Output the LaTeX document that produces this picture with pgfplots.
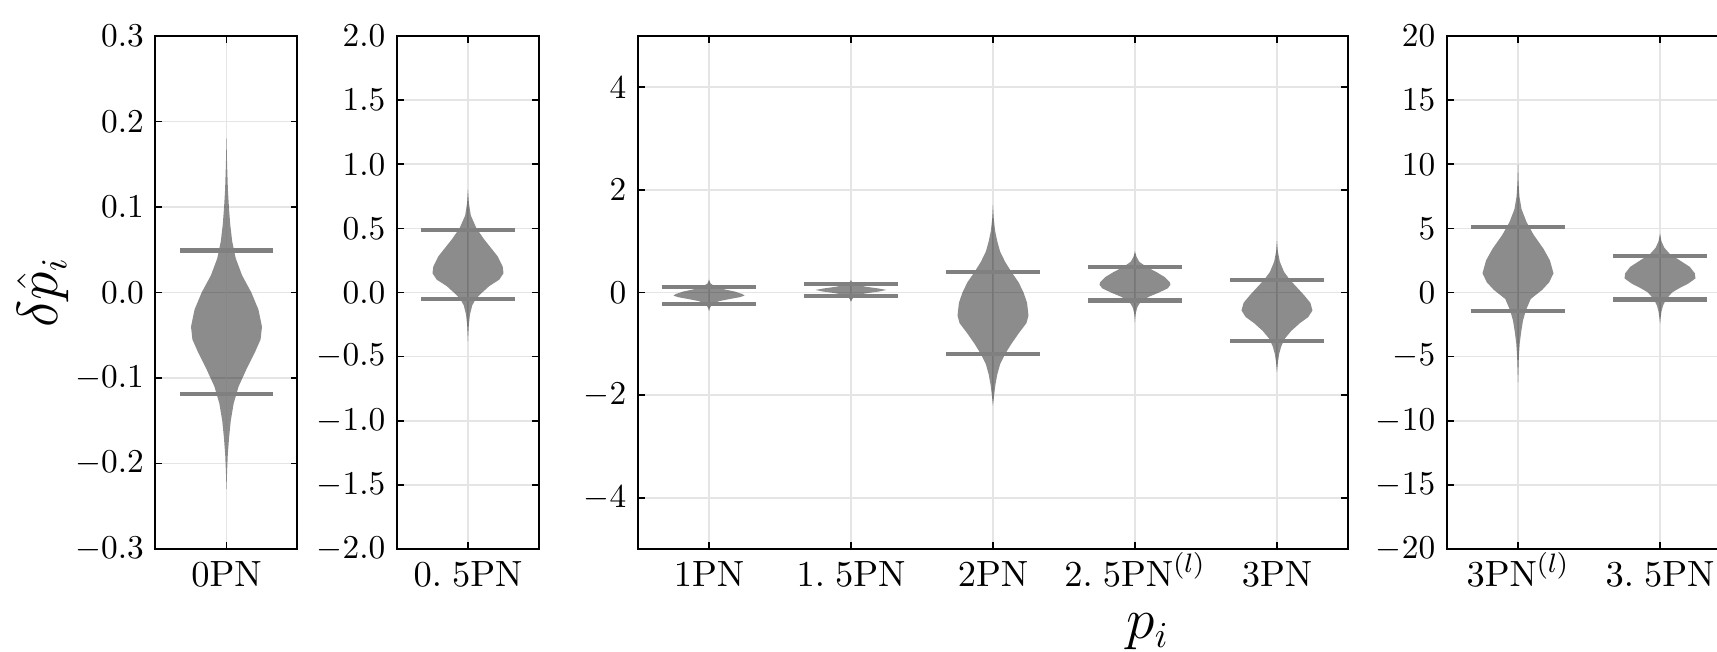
\documentclass[border=0pt]{standalone}
\usepackage{pgfplots}
\usepackage{pgfplotstable}
\pgfplotsset{compat=1.18}

% violin outlines: y and half width w (category units)
\pgfplotstableread{
y w
0.18 0
0.15 0.004
0.12 0.01
0.10 0.017
0.08 0.026
0.06 0.04
0.04 0.065
0.02 0.11
0.00 0.175
-0.02 0.225
-0.04 0.25
-0.055 0.24
-0.07 0.2
-0.09 0.14
-0.11 0.085
-0.13 0.05
-0.15 0.03
-0.17 0.018
-0.19 0.009
-0.21 0.004
-0.23 0
}\vZero
\pgfplotstableread{
y w
0.80 0
0.70 0.006
0.60 0.02
0.50 0.06
0.42 0.11
0.35 0.16
0.28 0.21
0.20 0.245
0.15 0.25
0.10 0.22
0.05 0.15
0.00 0.1
-0.05 0.055
-0.10 0.03
-0.17 0.014
-0.25 0.006
-0.33 0.002
-0.38 0
}\vHalf
\pgfplotstableread{
y w
0.25 0
0.18 0.01
0.12 0.04
0.06 0.11
0.02 0.18
-0.03 0.235
-0.06 0.25
-0.09 0.22
-0.13 0.14
-0.17 0.07
-0.21 0.035
-0.26 0.015
-0.31 0.005
-0.36 0
}\vOne
\pgfplotstableread{
y w
0.24 0
0.19 0.01
0.15 0.04
0.11 0.11
0.08 0.19
0.05 0.25
0.02 0.2
-0.01 0.12
-0.04 0.06
-0.08 0.025
-0.13 0.008
-0.18 0
}\vOneHalf
\pgfplotstableread{
y w
1.70 0
1.45 0.005
1.20 0.015
1.00 0.03
0.80 0.05
0.60 0.085
0.40 0.13
0.20 0.18
0.00 0.215
-0.20 0.24
-0.45 0.25
-0.60 0.235
-0.80 0.18
-1.00 0.13
-1.20 0.085
-1.40 0.05
-1.60 0.03
-1.80 0.017
-2.00 0.008
-2.20 0
}\vTwo
\pgfplotstableread{
y w
0.80 0
0.70 0.01
0.60 0.03
0.50 0.08
0.40 0.15
0.30 0.21
0.20 0.245
0.15 0.25
0.08 0.23
0.00 0.17
-0.08 0.1
-0.15 0.055
-0.22 0.03
-0.30 0.015
-0.40 0.006
-0.50 0.002
-0.58 0
}\vTwoHalf
\pgfplotstableread{
y w
1.00 0
0.80 0.006
0.60 0.02
0.40 0.05
0.25 0.09
0.10 0.14
-0.05 0.19
-0.20 0.235
-0.35 0.25
-0.48 0.22
-0.60 0.16
-0.75 0.1
-0.90 0.055
-1.05 0.03
-1.20 0.015
-1.35 0.007
-1.55 0
}\vThree
\pgfplotstableread{
y w
10.0 0
8.5 0.004
7.5 0.01
6.5 0.025
5.5 0.06
4.5 0.11
3.4 0.18
2.5 0.225
1.5 0.25
0.8 0.22
0.2 0.17
-0.5 0.09
-1.4 0.055
-2.2 0.035
-3.1 0.022
-4.0 0.012
-5.0 0.006
-6.0 0.003
-7.0 0
}\vThreeL
\pgfplotstableread{
y w
4.6 0
4.0 0.01
3.5 0.03
3.0 0.07
2.5 0.14
2.0 0.21
1.5 0.245
1.1 0.25
0.7 0.2
0.3 0.13
0.0 0.085
-0.5 0.045
-1.0 0.022
-1.5 0.01
-2.0 0.004
-2.4 0
}\vThreeHalf

% each half of a violin is filled; the fill closes along the centre line
\newcommand{\violin}[2]{%
  \addplot[fill=black, fill opacity=0.45, draw=none] table[x expr={#2+\thisrow{w}}, y=y] {#1};
  \addplot[fill=black, fill opacity=0.45, draw=none] table[x expr={#2-\thisrow{w}}, y=y] {#1};
}

\pgfplotsset{
  vio/.style={
    scale only axis, height=153.9pt, anchor=south west,
    xmin=-0.5,
    tick align=inside, xtick pos=both, ytick pos=both,
    major tick length=2pt,
    every tick/.style={black, line width=0.5pt},
    xmajorgrids, ymajorgrids,
    grid style={black!10, line width=0.5pt},
    axis line style={black, line width=0.6pt},
    x tick label style={font=\fontsize{11.2}{13}\selectfont, text height=7.7pt},
    y tick label style={font=\fontsize{10.4}{12}\selectfont},
    scaled y ticks=false,
  },
  qline/.style={black!50, line width=1.3pt},
}

\begin{document}
\begin{tikzpicture}

% panel 1: 0PN
\begin{axis}[vio, at={(46.65pt,30.9pt)}, width=42.6pt, xmax=0.5,
  ymin=-0.3, ymax=0.3, ytick={-0.3,-0.2,-0.1,0,0.1,0.2,0.3},
  yticklabel style={/pgf/number format/fixed, /pgf/number format/fixed zerofill, /pgf/number format/precision=1},
  xtick={0}, xticklabels={$0\mathrm{PN}$},
  ylabel={$\delta\hat{p}_i$},
  ylabel style={font=\fontsize{16}{19}\selectfont, at={(axis description cs:-0.79,0.5)}, anchor=center}]
\violin{\vZero}{0}
\addplot[qline] coordinates {(-0.33,0.049) (0.33,0.049)};
\addplot[qline] coordinates {(-0.33,-0.119) (0.33,-0.119)};
\end{axis}

% panel 2: 0.5PN
\begin{axis}[vio, at={(119.1pt,30.9pt)}, width=42.6pt, xmax=0.5,
  ymin=-2, ymax=2, ytick={-2,-1.5,-1,-0.5,0,0.5,1,1.5,2},
  yticklabel style={/pgf/number format/fixed, /pgf/number format/fixed zerofill, /pgf/number format/precision=1},
  xtick={0}, xticklabels={$0.\;5\mathrm{PN}$}]
\violin{\vHalf}{0}
\addplot[qline] coordinates {(-0.33,0.488) (0.33,0.488)};
\addplot[qline] coordinates {(-0.33,-0.053) (0.33,-0.053)};
\end{axis}

% panel 3
\begin{axis}[vio, at={(191.4pt,30.9pt)}, width=213pt, xmax=4.5,
  ymin=-5, ymax=5, ytick={-4,-2,0,2,4},
  xtick={0,1,2,3,4},
  xticklabels={$1\mathrm{PN}$, $1.\;5\mathrm{PN}$, $2\mathrm{PN}$, $2.\;5\mathrm{PN}^{(l)}$, $3\mathrm{PN}$},
  xlabel={$p_i$},
  xlabel style={font=\fontsize{16}{19}\selectfont, inner sep=0pt, at={(axis description cs:0.718,-0.175)}, anchor=base}]
\violin{\vOne}{0}
\violin{\vOneHalf}{1}
\violin{\vTwo}{2}
\violin{\vTwoHalf}{3}
\violin{\vThree}{4}
\addplot[qline] coordinates {(-0.33,0.105) (0.33,0.105)};
\addplot[qline] coordinates {(-0.33,-0.22) (0.33,-0.22)};
\addplot[qline] coordinates {(0.67,0.16) (1.33,0.16)};
\addplot[qline] coordinates {(0.67,-0.07) (1.33,-0.07)};
\addplot[qline] coordinates {(1.67,0.405) (2.33,0.405)};
\addplot[qline] coordinates {(1.67,-1.2) (2.33,-1.2)};
\addplot[qline] coordinates {(2.67,0.5) (3.33,0.5)};
\addplot[qline] coordinates {(2.67,-0.155) (3.33,-0.155)};
\addplot[qline] coordinates {(3.67,0.25) (4.33,0.25)};
\addplot[qline] coordinates {(3.67,-0.95) (4.33,-0.95)};
\end{axis}

% panel 4
\begin{axis}[vio, at={(434.1pt,30.9pt)}, width=85.2pt, xmax=1.5,
  ymin=-20, ymax=20, ytick={-20,-15,-10,-5,0,5,10,15,20},
  xtick={0,1},
  xticklabels={$3\mathrm{PN}^{(l)}$, $3.\;5\mathrm{PN}$}]
\violin{\vThreeL}{0}
\violin{\vThreeHalf}{1}
\addplot[qline] coordinates {(-0.33,5.1) (0.33,5.1)};
\addplot[qline] coordinates {(-0.33,-1.45) (0.33,-1.45)};
\addplot[qline] coordinates {(0.67,2.85) (1.33,2.85)};
\addplot[qline] coordinates {(0.67,-0.55) (1.33,-0.55)};
\end{axis}

\pgfresetboundingbox
\useasboundingbox (0,0) rectangle (515.1pt,195.6pt);
\end{tikzpicture}
\end{document}
